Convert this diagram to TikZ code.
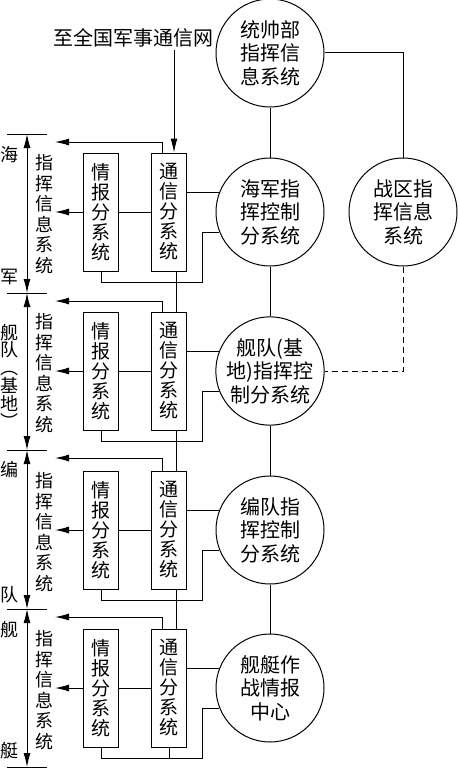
\documentclass[tikz,border=0pt]{standalone}
\usepackage{fontspec}
\setmainfont{Noto Sans CJK SC}
\usetikzlibrary{arrows.meta}

\begin{document}
\begin{tikzpicture}[x=1pt,y=-1pt,line width=1pt,>={Latex[length=14pt,width=7pt]},
  sub/.style={draw,minimum width=35pt,minimum height=118pt,inner sep=0pt,align=center,font=\fontsize{19}{20}\selectfont},
  sys/.style={draw,circle,minimum size=108pt,inner sep=0pt,align=center,font=\fontsize{20}{23.5}\selectfont},
  lab/.style={inner sep=0pt,align=center,font=\fontsize{18}{20.5}\selectfont}]
  \useasboundingbox (0,0) rectangle (458,776);
  \coordinate (tip) at (55,0);
  \coordinate (rt) at (202,0);
  \foreach \k/\y in {1/134,2/293,3/450,4/609,5/767}
    \coordinate (k\k) at (27,\y);

  \node[sys] (tsb) at (270,53) {统帅部\\指挥信\\息系统};
  \node[sys] (zq) at (403,212) {战区指\\挥信息\\系统};
  \node[inner sep=2pt,font=\fontsize{20}{24}\selectfont] (net) at (133,38) {至全国军事通信网};

  \foreach \y/\c/\txt [count=\i] in {212/hj/{海军指\\挥控制\\分系统},
      371/jd/{舰队(基\\地)指挥控\\制分系统},
      530/bd/{编队指\\挥控制\\分系统},
      688/jt/{舰艇作\\战情报\\中心}} {
    \node[sub] (qb\i) at (101,\y) {情\\报\\分\\系\\统};
    \node[sub] (tx\i) at (169,\y) {通\\信\\分\\系\\统};
    \node[sys] (\c) at (270,\y) {\txt};
    \node[lab] (zh\i) at (44,\y+2) {指\\挥\\信\\息\\系\\统};
    \draw[->] (qb\i.west) -- (qb\i.west -| tip);
    \draw (qb\i) -- (tx\i);
    \draw (tx\i.east |- \c.159) -- (\c.159);
    \draw (qb\i.south) -- ++(0,11) -| (rt |- \c.202) -- (\c.202);
    \draw[->] ([xshift=-7pt]tx\i.north) |- ([yshift=-8pt]k\i -| tip);
  }

  % left scale
  \foreach \a/\b in {1/2,2/3,3/4,4/5}
    \draw[<->] (k\a) -- (k\b);
  \foreach \i in {1,...,5}
    \draw ([xshift=-20pt]k\i) -- ([xshift=20pt]k\i);
  \node[lab] (hai) at (9,155) {海};
  \node[lab] (jun) at (9,277) {军};
  \node[lab,font=\fontsize{18}{17.8}\selectfont] (jdl) at (10,376) {舰\\队\\︵\\基\\地\\︶};
  \node[lab] (bian) at (9,470) {编};
  \node[lab] (dui) at (9,595) {队};
  \node[lab] (jian) at (9,630) {舰};
  \node[lab] (ting) at (9,751) {艇};

  % links
  \foreach \a/\b in {1/2,2/3,3/4}
    \draw ([xshift=7pt]tx\a.south) -- ([xshift=7pt]tx\b.north);
  \draw (tx4.south) -- ++(0,11);
  \draw[->] ([xshift=5pt]tx1.north |- net.south) -- ([xshift=5pt]tx1.north);
  \draw (tsb) -- (hj);
  \draw (hj) -- (jd);
  \draw (jd) -- (bd);
  \draw (bd) -- (jt);
  \draw (tsb.east) -| (zq.north);
  \draw[dashed,dash pattern=on 6pt off 4pt] (zq.south) |- (jd.east);
\end{tikzpicture}
\end{document}
